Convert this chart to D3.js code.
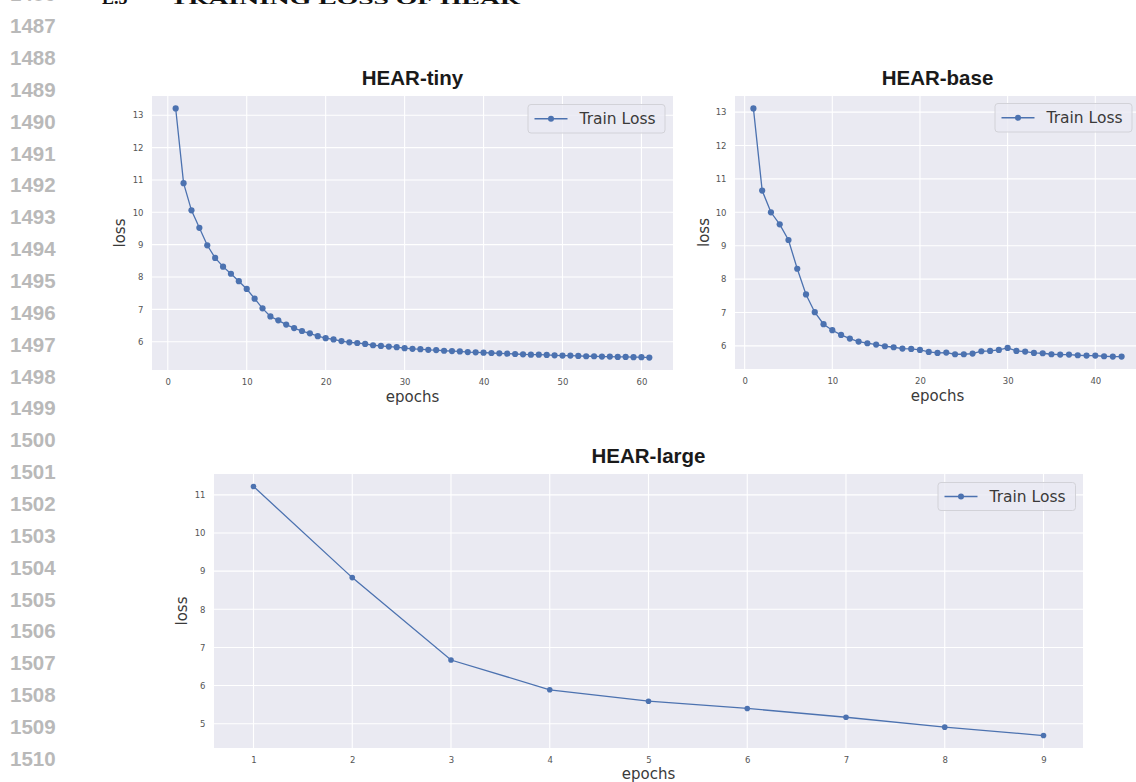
<!DOCTYPE html>
<html>
<head>
<meta charset="utf-8">
<script src="https://cdn.jsdelivr.net/npm/d3@7/dist/d3.min.js"></script>
<style>
  html, body { margin: 0; padding: 0; background: #ffffff; }
  svg { display: block; }
</style>
</head>
<body>
<svg id="chart" width="1136" height="782"></svg>
<script>
// ---------------- data ----------------
const tinyEpochs = d3.range(1, 62);
const tinyLoss = [
  13.21, 10.90, 10.06, 9.52, 8.98, 8.59, 8.32, 8.10, 7.87, 7.63,
  7.33, 7.03, 6.78, 6.66, 6.53, 6.42, 6.33, 6.26, 6.17, 6.11,
  6.07, 6.02, 5.98, 5.96, 5.93, 5.89, 5.87, 5.85, 5.83, 5.80,
  5.78, 5.77, 5.75, 5.74, 5.72, 5.71, 5.70, 5.68, 5.67, 5.66,
  5.65, 5.64, 5.63, 5.62, 5.61, 5.60, 5.60, 5.59, 5.58, 5.57,
  5.57, 5.56, 5.55, 5.55, 5.54, 5.54, 5.53, 5.53, 5.52, 5.52,
  5.51
];
const tinyXTicks = [0, 10, 20, 30, 40, 50, 60];
const tinyYTicks = [6, 7, 8, 9, 10, 11, 12, 13];

const baseEpochs = d3.range(1, 44);
const baseLoss = [
  13.11, 10.65, 10.00, 9.64, 9.17, 8.31, 7.54, 7.01, 6.65, 6.47,
  6.33, 6.22, 6.13, 6.08, 6.04, 5.99, 5.96, 5.92, 5.91, 5.88,
  5.82, 5.79, 5.80, 5.75, 5.75, 5.77, 5.84, 5.85, 5.88, 5.94,
  5.85, 5.83, 5.79, 5.78, 5.75, 5.74, 5.74, 5.72, 5.71, 5.71,
  5.69, 5.68, 5.68
];
const baseXTicks = [0, 10, 20, 30, 40];
const baseYTicks = [6, 7, 8, 9, 10, 11, 12, 13];

const largeEpochs = [1, 2, 3, 4, 5, 6, 7, 8, 9];
const largeLoss = [11.22, 8.83, 6.67, 5.89, 5.59, 5.40, 5.17, 4.91, 4.69];
const largeXTicks = [1, 2, 3, 4, 5, 6, 7, 8, 9];
const largeYTicks = [5, 6, 7, 8, 9, 10, 11];

const titles = ["HEAR-tiny", "HEAR-base", "HEAR-large"];
const legendLabel = "Train Loss";
const xLabel = "epochs";
const yLabel = "loss";
const lineNumbers = d3.range(1486, 1511);
const headerNum = "E.5";
const headerText = "TRAINING LOSS OF HEAR";

// ---------------- style ----------------
const BLUE = "#4C72B0";
const BG = "#EAEAF2";
const svg = d3.select("#chart");

// page fragment: line numbers and cut header
svg.append("g").selectAll("text").data(lineNumbers).join("text")
  .attr("x", 10)
  .attr("y", (d, i) => -6 + i * 31.85)
  .attr("dy", "0.36em")
  .attr("font-family", "Liberation Sans, Arial, sans-serif")
  .attr("font-weight", "bold")
  .attr("font-size", 20.5)
  .attr("fill", "#b9b9b9")
  .text(d => d);

svg.append("text").attr("x", 102).attr("y", 3.5)
  .attr("font-family", "Liberation Serif, Times New Roman, serif")
  .attr("font-weight", "bold").attr("font-size", 18).attr("fill", "#111")
  .text(headerNum);
svg.append("text").attr("x", 170).attr("y", 3.5)
  .attr("font-family", "Liberation Serif, Times New Roman, serif")
  .attr("font-weight", "bold").attr("font-size", 15).attr("fill", "#111")
  .attr("textLength", 350).attr("lengthAdjust", "spacingAndGlyphs")
  .text(headerText);

function padDomain(vals) {
  const [lo, hi] = d3.extent(vals);
  const m = (hi - lo) * 0.05;
  return [lo - m, hi + m];
}

function panel(cfg) {
  const { box, xs, ys, xTicks, yTicks, title, r, legend } = cfg;
  const x = d3.scaleLinear().domain(padDomain(xs)).range([box.left, box.right]);
  const y = d3.scaleLinear().domain(padDomain(ys)).range([box.bottom, box.top]);
  const g = svg.append("g");

  const clipId = "clip-" + title;
  g.append("clipPath").attr("id", clipId).append("rect")
    .attr("x", box.left).attr("y", box.top)
    .attr("width", box.right - box.left).attr("height", box.bottom - box.top);

  g.append("rect")
    .attr("x", box.left).attr("y", box.top)
    .attr("width", box.right - box.left).attr("height", box.bottom - box.top)
    .attr("fill", BG);

  // grid
  g.append("g").selectAll("line").data(xTicks).join("line")
    .attr("x1", d => x(d)).attr("x2", d => x(d))
    .attr("y1", box.top).attr("y2", box.bottom)
    .attr("stroke", "#ffffff").attr("stroke-width", 1.1);
  g.append("g").selectAll("line").data(yTicks).join("line")
    .attr("x1", box.left).attr("x2", box.right)
    .attr("y1", d => y(d)).attr("y2", d => y(d))
    .attr("stroke", "#ffffff").attr("stroke-width", 1.1);

  // axes
  const xa = g.append("g").attr("transform", `translate(0,${box.bottom})`)
    .call(d3.axisBottom(x).tickValues(xTicks).tickSize(0).tickPadding(8.5).tickFormat(d3.format("d")));
  const ya = g.append("g").attr("transform", `translate(${box.left},0)`)
    .call(d3.axisLeft(y).tickValues(yTicks).tickSize(0).tickPadding(8.5).tickFormat(d3.format("d")));
  [xa, ya].forEach(a => {
    a.select(".domain").remove();
    a.selectAll("text")
      .attr("font-family", "DejaVu Sans, sans-serif")
      .attr("font-size", 8.5)
      .attr("fill", "#555555");
  });

  // line + markers
  const pts = xs.map((d, i) => [d, ys[i]]);
  const plot = g.append("g").attr("clip-path", `url(#${clipId})`);
  plot.append("path")
    .datum(pts)
    .attr("d", d3.line().x(d => x(d[0])).y(d => y(d[1])))
    .attr("fill", "none").attr("stroke", BLUE).attr("stroke-width", 1.3);
  plot.append("g").selectAll("circle").data(pts).join("circle")
    .attr("cx", d => x(d[0])).attr("cy", d => y(d[1]))
    .attr("r", r).attr("fill", BLUE);

  // title
  g.append("text")
    .attr("x", (box.left + box.right) / 2).attr("y", box.top - 11)
    .attr("text-anchor", "middle")
    .attr("font-family", "Liberation Sans, Arial, Helvetica, sans-serif")
    .attr("font-weight", "bold").attr("font-size", 20.5)
    .attr("fill", "#1a1a1a")
    .text(title);

  // axis labels
  g.append("text")
    .attr("x", (box.left + box.right) / 2).attr("y", cfg.xLabelY)
    .attr("text-anchor", "middle")
    .attr("font-family", "DejaVu Sans, sans-serif").attr("font-size", 15)
    .attr("fill", "#3a3a3a")
    .text(xLabel);
  g.append("text")
    .attr("transform", `translate(${cfg.yLabelX},${(box.top + box.bottom) / 2}) rotate(-90)`)
    .attr("text-anchor", "middle").attr("dy", "0.36em")
    .attr("font-family", "DejaVu Sans, sans-serif").attr("font-size", 15)
    .attr("fill", "#3a3a3a")
    .text(yLabel);

  // legend
  const L = legend;
  const lg = g.append("g");
  lg.append("rect")
    .attr("x", L.x).attr("y", L.y).attr("width", L.w).attr("height", L.h)
    .attr("rx", 3).attr("ry", 3)
    .attr("fill", BG).attr("fill-opacity", 0.8)
    .attr("stroke", "#d2d2d8").attr("stroke-width", 1);
  const cy = L.y + L.h / 2;
  lg.append("line")
    .attr("x1", L.x + 6.5).attr("x2", L.x + 39.5)
    .attr("y1", cy).attr("y2", cy)
    .attr("stroke", BLUE).attr("stroke-width", 1.3);
  lg.append("circle").attr("cx", L.x + 23).attr("cy", cy).attr("r", 3).attr("fill", BLUE);
  lg.append("text")
    .attr("x", L.x + 51.5).attr("y", cy).attr("dy", "0.36em")
    .attr("font-family", "DejaVu Sans, sans-serif").attr("font-size", 15.5)
    .attr("fill", "#3a3a3a")
    .text(legendLabel);
}

panel({
  title: titles[0], xs: tinyEpochs, ys: tinyLoss, xTicks: tinyXTicks, yTicks: tinyYTicks,
  box: { left: 152, right: 673, top: 96, bottom: 370 }, r: 3.1,
  xLabelY: 402, yLabelX: 120,
  legend: { x: 528, y: 104.5, w: 137, h: 28.5 }
});
panel({
  title: titles[1], xs: baseEpochs, ys: baseLoss, xTicks: baseXTicks, yTicks: baseYTicks,
  box: { left: 735, right: 1140, top: 96, bottom: 369 }, r: 3.1,
  xLabelY: 401, yLabelX: 703.5,
  legend: { x: 995, y: 103.5, w: 137, h: 28.5 }
});
panel({
  title: titles[2], xs: largeEpochs, ys: largeLoss, xTicks: largeXTicks, yTicks: largeYTicks,
  box: { left: 214, right: 1083, top: 474, bottom: 748 }, r: 2.8,
  xLabelY: 779, yLabelX: 182,
  legend: { x: 938, y: 482.5, w: 137.5, h: 28 }
});
</script>
</body>
</html>
